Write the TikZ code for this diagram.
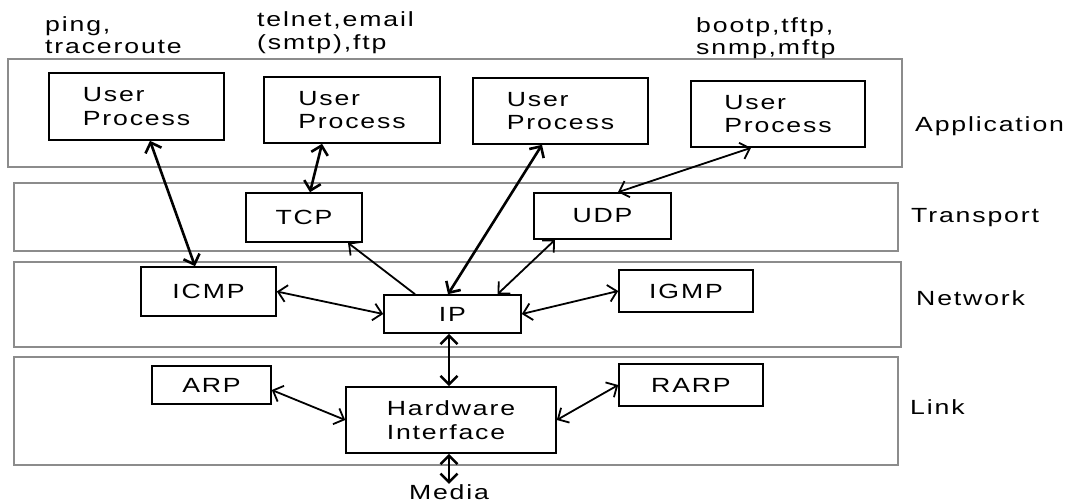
\documentclass[tikz,border=0pt]{standalone}
\usepackage{fontspec}
\setmainfont{Liberation Sans}[FakeStretch=1.3, LetterSpace=9]
\usetikzlibrary{arrows.meta,calc}

\tikzset{
  layer/.style={draw=black!45, line width=1.2pt, inner sep=0pt},
  proc/.style={draw=black, line width=1.6pt, inner sep=0pt, align=left},
  txt/.style={inner sep=0pt, align=left},
  barb/.tip={Straight Barb[length=8.5pt,width=17pt]},
  link/.style={barb-barb, line width=1.8pt},
  heavy/.style={barb-barb, line width=2.6pt},
  oneway/.style={-barb, line width=1.8pt},
}

\begin{document}
\begin{tikzpicture}[x=1pt, y=-1pt,
  every node/.append style={font=\fontsize{20.5}{23.5}\selectfont}]
\useasboundingbox (0,0) rectangle (1078,503);

% layer frames
\node[layer, minimum width=894pt, minimum height=108pt] (app)  at (455,113)   {};
\node[layer, minimum width=884pt, minimum height=68pt]  (trn)  at (456,217)   {};
\node[layer, minimum width=887pt, minimum height=85pt]  (net)  at (457.5,304.5) {};
\node[layer, minimum width=884pt, minimum height=108pt] (lnk)  at (456,411)   {};

% layer names
\node[txt, anchor=base west] (lapp) at (915,131) {Application};
\node[txt, anchor=base west] (ltrn) at (911,222) {Transport};
\node[txt, anchor=base west] (lnet) at (916,305) {Network};
\node[txt, anchor=base west] (llnk) at (910,414) {Link};

% application names above the processes
\node[txt, anchor=base west] (n1a) at (45,32)  {ping,};
\node[txt, anchor=base west] (n1b) at (45,54)  {traceroute};
\node[txt, anchor=base west] (n2a) at (257,27)  {telnet,email};
\node[txt, anchor=base west] (n2b) at (257,50)  {(smtp),ftp};
\node[txt, anchor=base west] (n3a) at (696,33)  {bootp,tftp,};
\node[txt, anchor=base west] (n3b) at (696,55)  {snmp,mftp};

% protocol boxes
\node[proc, minimum width=175pt, minimum height=67pt] (up1) at (136.5,106.5) {User\\Process};
\node[proc, minimum width=176pt, minimum height=66pt] (up2) at (352,110)   {User\\Process};
\node[proc, minimum width=175pt, minimum height=66pt] (up3) at (560.5,111)   {User\\Process};
\node[proc, minimum width=174pt, minimum height=66pt] (up4) at (778,114)   {User\\Process};

\node[proc, minimum width=116pt, minimum height=49pt] (tcp) at (304,217.5) {TCP};
\node[proc, minimum width=137pt, minimum height=46pt] (udp) at (602.5,216) {UDP};

\node[proc, minimum width=135pt, minimum height=49pt] (icmp) at (208.5,291.5) {ICMP};
\node[proc, minimum width=137pt, minimum height=38pt] (ip)   at (452.5,314)   {IP};
\node[proc, minimum width=134pt, minimum height=42pt] (igmp) at (686,291)     {IGMP};

\node[proc, minimum width=119pt, minimum height=38pt] (arp)  at (211.5,385) {ARP};
\node[proc, minimum width=210pt, minimum height=66pt] (hw)   at (451,420)   {Hardware\\Interface};
\node[proc, minimum width=144pt, minimum height=42pt] (rarp) at (691,385)   {RARP};

\node[txt, anchor=base] (media) at (449,499) {Media};

% connections
\draw[heavy] ([xshift=13.5pt]up1.south) -- ([xshift=-13.5pt]icmp.north);
\draw[heavy] ([xshift=-30pt]up2.south) -- ([xshift=6pt]tcp.north);
\draw[heavy] ([xshift=-18.5pt]up3.south) -- ([xshift=-4.5pt]ip.north);
\draw[link]  ([xshift=-27pt]up4.south) -- ([xshift=15.5pt]udp.north);
\draw[oneway] ([xshift=-37.5pt]ip.north) -- ([xshift=44pt]tcp.south);
\draw[link]  ([xshift=45pt]ip.north) -- ([xshift=-47.5pt]udp.south);
\draw[link]  (icmp.east) -- (ip.west);
\draw[link]  (ip.east) -- (igmp.west);
\draw[heavy] (ip.south -| media.north) -- (hw.north -| media.north);
\draw[link]  ([yshift=-5pt]arp.east) -- (hw.west);
\draw[link]  (hw.east) -- (rarp.west);
\draw[heavy] (hw.south -| media.north) -- (media.north);
\end{tikzpicture}
\end{document}
